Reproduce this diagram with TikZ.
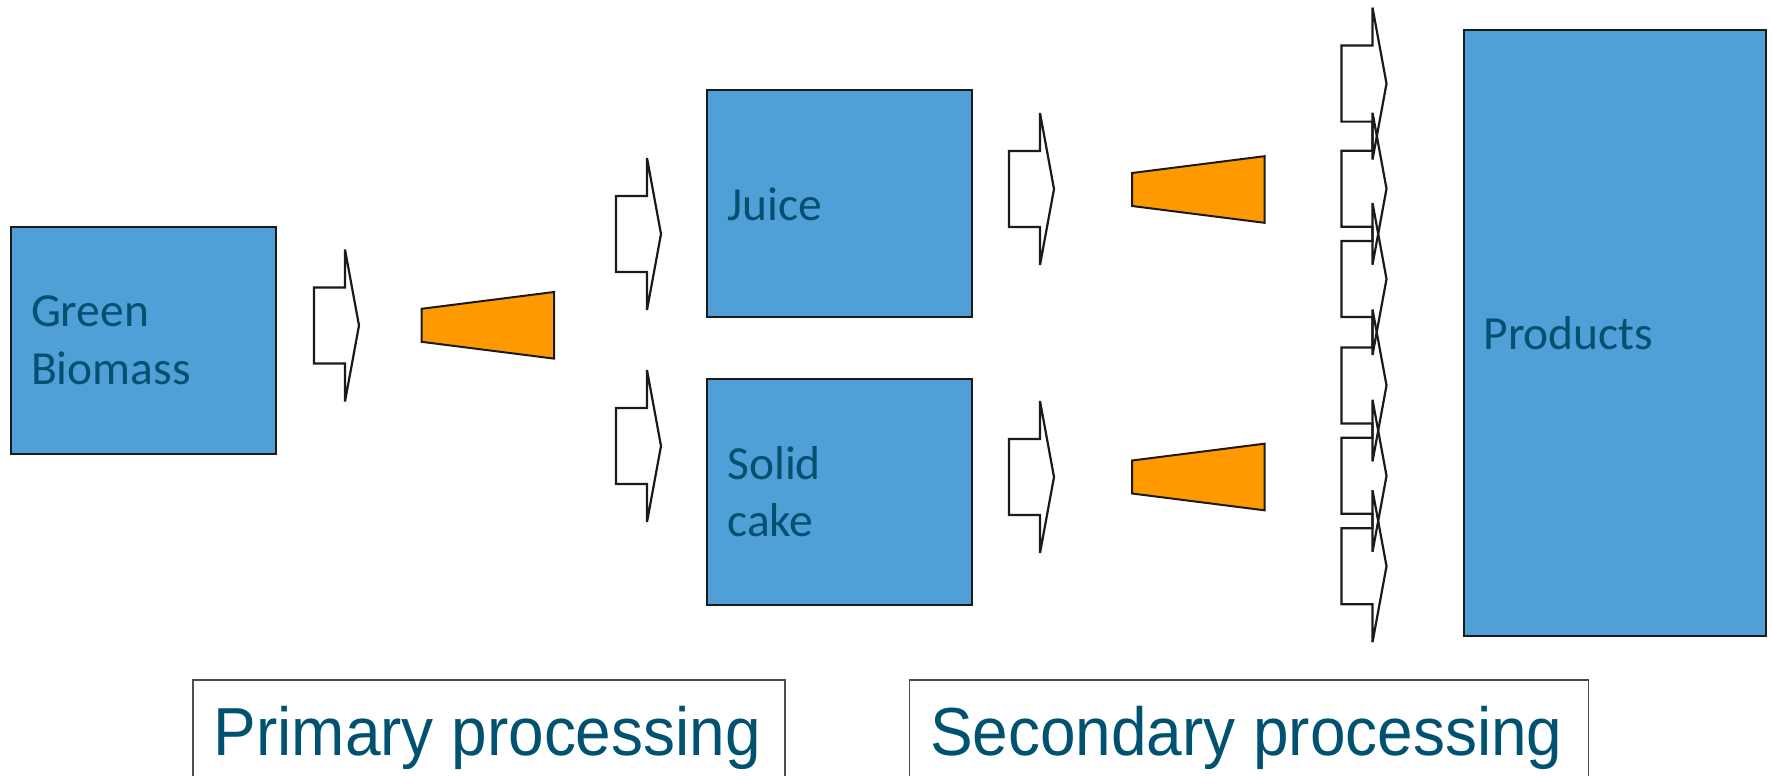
\documentclass[tikz,border=0pt]{standalone}
\usepackage{fontspec}
\setmainfont{Liberation Sans}
\newfontfamily\boxfont{Carlito}
\newfontfamily\labfont{Liberation Sans}
\definecolor{boxblue}{RGB}{80,159,214}
\definecolor{trapor}{RGB}{255,153,0}
\definecolor{tealtext}{RGB}{0,82,112}
\definecolor{edge}{RGB}{26,26,26}
\tikzset{
  bluebox/.style={draw=edge, line width=2pt, fill=boxblue, anchor=north west,
    inner xsep=20pt, inner ysep=0pt, outer sep=0pt, align=left, text=tealtext,
    font=\boxfont\fontsize{47.5}{57.6}\selectfont},
  arrowline/.style={draw=edge, line width=2.2pt, fill=white, line join=miter},
  arrowopen/.style={draw=edge, line width=2.2pt, line join=miter},
  trapline/.style={draw=edge, line width=2pt, fill=trapor},
  labelbox/.style={draw=black!70, line width=1.5pt, anchor=north west, outer sep=0pt, inner sep=0pt},
  labeltext/.style={text=tealtext, font=\labfont\fontsize{68}{80}\selectfont, inner sep=0pt, xscale=0.94, anchor=base west}
}
\newcommand\blockarrow[3][arrowline]{%
  \draw[#1] (#2,#3-38) -- (#2+31,#3-38) -- (#2+31,#3-76) -- (#2+45,#3)
    -- (#2+31,#3+76) -- (#2+31,#3+38) -- (#2,#3+38) -- cycle;}
\newcommand\orangetrap[2]{%
  \draw[trapline] (#1,#2-16.5) -- (#1+132.5,#2-33.3) -- (#1+132.5,#2+33.3)
    -- (#1,#2+16.5) -- cycle;}
\begin{document}
\begin{tikzpicture}[x=1pt,y=-1pt]
\useasboundingbox (0,0) rectangle (1772,776);
\clip (0,0) rectangle (1772,776);
% blue boxes
\node[bluebox, minimum width=265pt, minimum height=227pt, text width=225pt] (green) at (11,227) {Green\\Biomass};
\node[bluebox, minimum width=264.5pt, minimum height=227pt, text width=224.5pt] (juice) at (707.4,90.4) {Juice};
\node[bluebox, minimum width=264.5pt, minimum height=226pt, text width=224.5pt] (solid) at (707.4,378.6) {Solid\\cake};
\node[bluebox, minimum width=302.5pt, minimum height=605.5pt, text width=262.5pt] (products) at (1463.5,30.5) {Products};
% block arrows
\blockarrow{314}{325.5}
\blockarrow{616}{234}
\blockarrow{616}{446}
\blockarrow{1009}{189}
\blockarrow{1009}{477}
\blockarrow[arrowopen]{1341.5}{83.6}
\blockarrow[arrowopen]{1341.5}{188.7}
\blockarrow[arrowopen]{1341.5}{279}
\blockarrow[arrowopen]{1341.5}{385.4}
\blockarrow[arrowopen]{1341.5}{475.8}
\blockarrow[arrowopen]{1341.5}{566.2}
% trapezoids
\orangetrap{421.5}{325.3}
\orangetrap{1132}{189.5}
\orangetrap{1132}{477}
% labels
\node[labelbox, minimum width=592pt, minimum height=140pt] (primarybox) at (193,680) {};
\node[labeltext] (primarylabel) at (213.6,755) {Primary processing};
\node[labelbox, minimum width=679pt, minimum height=140pt] (secondarybox) at (909.7,680) {};
\node[labeltext] (secondarylabel) at (930,755) {Secondary processing};
\end{tikzpicture}
\end{document}
